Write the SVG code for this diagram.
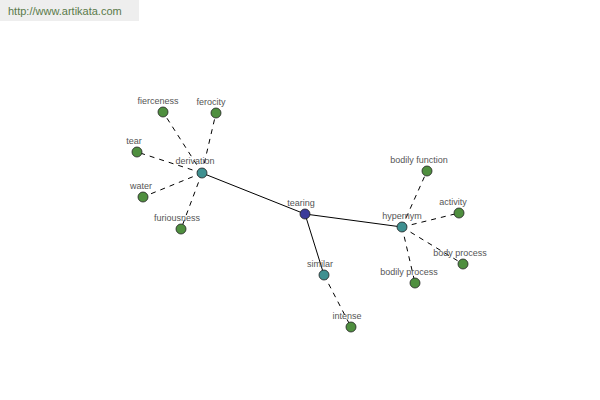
<svg xmlns="http://www.w3.org/2000/svg" width="600" height="400" viewBox="0 0 600 400">
<style>
.bg{fill:#ffffff}
.wm{fill:#eeeeee}
.wmt{font-family:"Liberation Sans",Arial,sans-serif;font-size:11px;fill:#5a7a4a}
.n circle{stroke:#222;stroke-width:0.8}
.leaf circle{fill:#4f8f3f}
.mid circle{fill:#3f9090}
.root circle{fill:#3a3a9a}
.n text{font-family:"Liberation Sans",Arial,sans-serif;font-size:9px;fill:#555;text-anchor:middle}
.s{stroke:#000;stroke-width:1;fill:none}
.d{stroke:#000;stroke-width:1;stroke-dasharray:5 5;fill:none}
</style>
<rect class="bg" width="600" height="400"/>
<rect class="wm" x="0" y="0" width="139" height="21"/>
<text class="wmt" x="8" y="15">http://www.artikata.com</text>
<g id="connectors">
<line class="s" x1="305" y1="214" x2="202" y2="173"/>
<line class="s" x1="305" y1="214" x2="402" y2="227"/>
<line class="s" x1="305" y1="214" x2="324" y2="275"/>
<line class="d" x1="202" y1="173" x2="163" y2="112"/>
<line class="d" x1="202" y1="173" x2="216" y2="113"/>
<line class="d" x1="202" y1="173" x2="137" y2="152"/>
<line class="d" x1="202" y1="173" x2="143" y2="197"/>
<line class="d" x1="202" y1="173" x2="181" y2="229"/>
<line class="d" x1="402" y1="227" x2="427" y2="171"/>
<line class="d" x1="402" y1="227" x2="459" y2="213"/>
<line class="d" x1="402" y1="227" x2="463" y2="264"/>
<line class="d" x1="402" y1="227" x2="415" y2="283"/>
<line class="d" x1="324" y1="275" x2="351" y2="327"/>
</g>
<g id="tearing" class="n root"><circle cx="305" cy="214" r="5"/><text x="301" y="206">tearing</text></g>
<g id="derivation" class="n mid"><circle cx="202" cy="173" r="5"/><text x="195" y="164">derivation</text></g>
<g id="hypernym" class="n mid"><circle cx="402" cy="227" r="5"/><text x="402" y="219">hypernym</text></g>
<g id="similar" class="n mid"><circle cx="324" cy="275" r="5"/><text x="320" y="267">similar</text></g>
<g id="fierceness" class="n leaf"><circle cx="163" cy="112" r="5"/><text x="158" y="104">fierceness</text></g>
<g id="ferocity" class="n leaf"><circle cx="216" cy="113" r="5"/><text x="211" y="105">ferocity</text></g>
<g id="tear" class="n leaf"><circle cx="137" cy="152" r="5"/><text x="134" y="144">tear</text></g>
<g id="water" class="n leaf"><circle cx="143" cy="197" r="5"/><text x="141" y="189">water</text></g>
<g id="furiousness" class="n leaf"><circle cx="181" cy="229" r="5"/><text x="177" y="221">furiousness</text></g>
<g id="bodily-function" class="n leaf"><circle cx="427" cy="171" r="5"/><text x="419" y="163">bodily function</text></g>
<g id="activity" class="n leaf"><circle cx="459" cy="213" r="5"/><text x="453" y="205">activity</text></g>
<g id="body-process" class="n leaf"><circle cx="463" cy="264" r="5"/><text x="460" y="256">body process</text></g>
<g id="bodily-process" class="n leaf"><circle cx="415" cy="283" r="5"/><text x="409" y="275">bodily process</text></g>
<g id="intense" class="n leaf"><circle cx="351" cy="327" r="5"/><text x="347" y="319">intense</text></g>
</svg>
